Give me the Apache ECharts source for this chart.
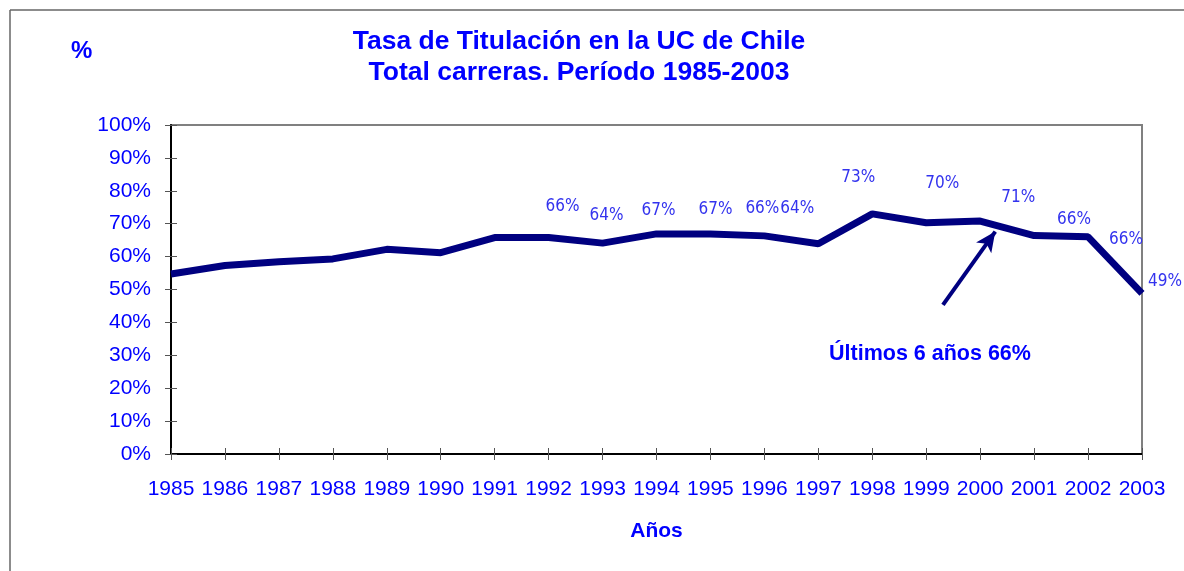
<!DOCTYPE html>
<html>
<head>
    <meta charset="utf-8">
    <title>Tasa de Titulación</title>
    <script type="text/javascript" src="https://cdn.jsdelivr.net/npm/echarts@6/dist/echarts.min.js"></script>
    <style>
        html, body { margin: 0; padding: 0; background: #fff; }
    </style>
</head>
<body>
	<div id="main" style="height:571px; width:1184px;"></div>
	<script type="text/javascript">
	// años y tasa de titulación (%)
	var years = [1985, 1986, 1987, 1988, 1989, 1990, 1991, 1992, 1993, 1994,
	             1995, 1996, 1997, 1998, 1999, 2000, 2001, 2002, 2003];
	var rates = [54.7, 57.3, 58.4, 59.3, 62.2, 61.2, 65.8, 65.8, 64.1, 66.9,
	             66.9, 66.3, 63.9, 73.0, 70.3, 70.8, 66.4, 66.0, 48.8];
	// etiquetas visibles desde 1992
	var labelFrom = 1992;
	var yTicks = [0, 10, 20, 30, 40, 50, 60, 70, 80, 90, 100];
	// flecha: desde / hasta (año, %)
	var arrowFrom = [1999.31, 45.3];
	var arrowTo = [2000.28, 67.6];
	var noteText = 'Últimos 6 años 66%';

	// desplazamiento de cada etiqueta respecto a su punto (solo diseño)
	var labelOffsets = {
	    1992: [14, -31], 1993: [4, -28], 1994: [2, -23], 1995: [5, -24],
	    1996: [-2, -27], 1997: [-21, -35], 1998: [-14, -36], 1999: [16, -39],
	    2000: [38, -23], 2001: [40, -16], 2002: [38, 3], 2003: [23, -12]
	};

	var blue = '#0000ff';
	var navy = '#000080';
	var arial = 'Liberation Sans, Arial, sans-serif';
	var narrow = "'Liberation Sans Narrow', 'DejaVu Sans Condensed', sans-serif";

	var myChart = echarts.init(document.getElementById('main'));

	var seriesData = years.map(function(y, i) {
	    var item = { value: [y, rates[i]] };
	    if (y >= labelFrom) {
	        item.label = { show: true, offset: labelOffsets[y] || [0, -20] };
	    } else {
	        item.label = { show: false };
	    }
	    return item;
	});

	var baseX = {
	    type: 'value',
	    min: years[0],
	    max: years[years.length - 1],
	    interval: 1,
	    splitLine: { show: false }
	};
	var baseY = {
	    type: 'value',
	    min: yTicks[0],
	    max: yTicks[yTicks.length - 1],
	    interval: 10,
	    splitLine: { show: false }
	};

	var option = {
	    animation: false,
	    backgroundColor: '#fff',
	    grid: {
	        left: 171, right: 42, top: 125, bottom: 117,
	        show: true, borderColor: '#808080', borderWidth: 2
	    },
	    xAxis: [
	        Object.assign({}, baseX, {
	            name: 'Años',
	            nameLocation: 'middle',
	            nameGap: 67,
	            nameTextStyle: { color: blue, fontSize: 21, fontWeight: 'bold', fontFamily: arial },
	            axisLine: { lineStyle: { color: '#000', width: 2 } },
	            axisTick: { length: 6, lineStyle: { color: '#555' } },
	            axisLabel: {
	                color: blue, fontSize: 21, margin: 25,
	                fontFamily: arial,
	                formatter: function(v) { return String(v); }
	            }
	        }),
	        Object.assign({}, baseX, {
	            position: 'bottom',
	            axisLine: { show: false },
	            axisTick: { inside: true, length: 6, lineStyle: { color: '#555' } },
	            axisLabel: { show: false }
	        })
	    ],
	    yAxis: [
	        Object.assign({}, baseY, {
	            axisLine: { show: true, lineStyle: { color: '#000', width: 2 } },
	            axisTick: { show: true, length: 6, lineStyle: { color: '#555' } },
	            axisLabel: {
	                color: blue, fontSize: 21, margin: 20,
	                fontFamily: arial,
	                formatter: '{value}%'
	            }
	        }),
	        Object.assign({}, baseY, {
	            position: 'left',
	            axisLine: { show: false },
	            axisTick: { show: true, inside: true, length: 6, lineStyle: { color: '#555' } },
	            axisLabel: { show: false }
	        })
	    ],
	    graphic: [
	        { type: 'line', shape: { x1: 10, y1: 10, x2: 1184, y2: 10 }, style: { stroke: '#666', lineWidth: 1.5 } },
	        { type: 'line', shape: { x1: 10, y1: 10, x2: 10, y2: 571 }, style: { stroke: '#666', lineWidth: 1.5 } },
	        {
	            type: 'text', x: 579, y: 26,
	            style: {
	                text: 'Tasa de Titulación en la UC de Chile\nTotal carreras. Período 1985-2003',
	                fill: blue, font: 'bold 26.5px ' + arial,
	                textAlign: 'center', lineHeight: 31
	            }
	        },
	        {
	            type: 'text', x: 71, y: 39,
	            style: { text: '%', fill: blue, font: 'bold 24px ' + arial }
	        },
	        {
	            type: 'text', x: 829, y: 343,
	            style: { text: noteText, fill: blue, font: 'bold 21.5px ' + arial }
	        }
	    ],
	    series: [
	        {
	            type: 'line',
	            data: seriesData,
	            symbol: 'circle',
	            symbolSize: 0,
	            showSymbol: true,
	            lineStyle: { color: navy, width: 7 },
	            itemStyle: { color: navy },
	            label: {
	                position: 'inside',
	                color: '#3333ee',
	                fontSize: 17,
	                fontFamily: narrow,
	                formatter: function(p) { return Math.round(p.value[1]) + '%'; }
	            },
	            markLine: {
	                silent: true,
	                symbol: ['none', 'arrow'],
	                symbolSize: [14, 20],
	                label: { show: false },
	                lineStyle: { color: navy, width: 4, type: 'solid' },
	                data: [[{ coord: arrowFrom }, { coord: arrowTo }]]
	            }
	        }
	    ]
	};

	myChart.setOption(option);
	</script>
</body>
</html>
